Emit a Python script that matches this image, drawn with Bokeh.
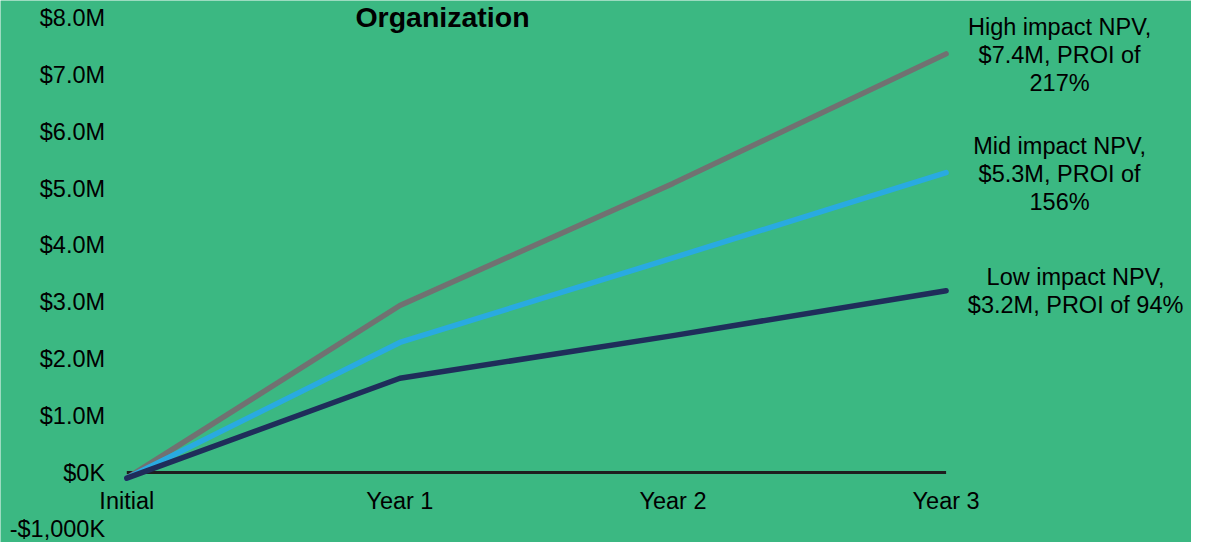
from bokeh.plotting import figure
from bokeh.models import FixedTicker, LinearAxis, Range1d, ColumnDataSource
from bokeh.core.properties import value
from bokeh.embed import file_html
from bokeh.resources import INLINE

# ---- data ----
periods = ["Initial", "Year 1", "Year 2", "Year 3"]
high_npv = [-0.1, 2.94, 5.09, 7.37]   # $M
mid_npv = [-0.1, 2.29, 3.78, 5.28]
low_npv = [-0.1, 1.66, 2.41, 3.20]
y_ticks = [-1, 0, 1, 2, 3, 4, 5, 6, 7, 8]
y_tick_labels = ["-$1,000K", "$0K", "$1.0M", "$2.0M", "$3.0M", "$4.0M",
                 "$5.0M", "$6.0M", "$7.0M", "$8.0M"]
high_label = "High impact NPV,\n$7.4M, PROI of\n217%"
mid_label = "Mid impact NPV,\n$5.3M, PROI of\n156%"
low_label = "Low impact NPV,\n$3.2M, PROI of 94%"
title_text = "Organization"

# ---- layout ----
W, H = 1191, 542
BG = "#3bb882"
FONT = "Liberation Sans"
FS = "23.5px"
x0 = 126.3             # canvas x of first category
px_x = 273.1           # pixels per category step
zero_y = 472.0         # canvas y of $0
px_y = 56.8            # pixels per $1M
x_start = -x0 / px_x
x_end = x_start + W / px_x
y_end = zero_y / px_y
y_start = -(H - zero_y) / px_y

xs = list(range(len(periods)))

p = figure(width=W, height=H, output_backend="svg", toolbar_location=None,
           x_range=Range1d(x_start, x_end), y_range=Range1d(y_start, y_end),
           x_axis_location=None, y_axis_location=None,
           min_border_left=0, min_border_right=0,
           min_border_top=0, min_border_bottom=0)
p.background_fill_color = BG
p.border_fill_color = BG
p.outline_line_color = None
p.xgrid.visible = False
p.ygrid.visible = False

# y axis, drawn inside the frame
ya = LinearAxis(fixed_location=(110.6 - x0) / px_x)
ya.ticker = FixedTicker(ticks=y_ticks)
ya.major_label_overrides = {t: l for t, l in zip(y_ticks, y_tick_labels)}
ya.axis_line_color = None
ya.major_tick_line_color = None
ya.minor_tick_line_color = None
ya.major_tick_out = 0
ya.major_tick_in = 0
ya.major_label_standoff = 6
ya.major_label_text_font = FONT
ya.major_label_text_font_size = FS
ya.major_label_text_color = "#000000"
p.add_layout(ya, "left")

# x axis at y = 0
xa = LinearAxis(fixed_location=0)
xa.ticker = FixedTicker(ticks=xs)
xa.major_label_overrides = {i: lab for i, lab in enumerate(periods)}
xa.axis_line_color = None
xa.major_tick_line_color = None
xa.minor_tick_line_color = None
xa.major_tick_out = 0
xa.major_tick_in = 0
xa.major_label_standoff = 15
xa.major_label_text_font = FONT
xa.major_label_text_font_size = FS
xa.major_label_text_color = "#000000"
p.add_layout(xa, "below")

# zero line
p.line(x=[xs[0], xs[-1]], y=[0, 0], line_color="#1e1e1e", line_width=3)

# series
for vals, col in ((high_npv, "#717171"), (mid_npv, "#29aae1"),
                  (low_npv, "#1f2d5a")):
    p.line(x=xs, y=vals, line_color=col, line_width=5.5,
           line_cap="round", line_join="round")

# end labels
lab_src = ColumnDataSource(dict(
    x=[xs[-1] + (1059 - 945.5) / px_x, xs[-1] + (1059 - 945.5) / px_x,
       xs[-1] + (1075 - 945.5) / px_x],
    y=[high_npv[-1] - 0.02, mid_npv[-1] - 0.02, low_npv[-1]],
    t=[high_label, mid_label, low_label]))
p.text(x="x", y="y", text="t", source=lab_src, text_align="center",
       text_baseline="middle", text_font=value(FONT), text_font_size=FS,
       text_color="#000000", text_line_height=1.07)

# title at the top edge
p.text(x=[(442 - x0) / px_x], y=[y_end], text=[title_text],
       text_align="center", text_baseline="top", text_font=value(FONT),
       text_font_style="bold", text_font_size="28.5px", text_color="#000000")

open("out.html", "w").write(file_html(p, INLINE))
